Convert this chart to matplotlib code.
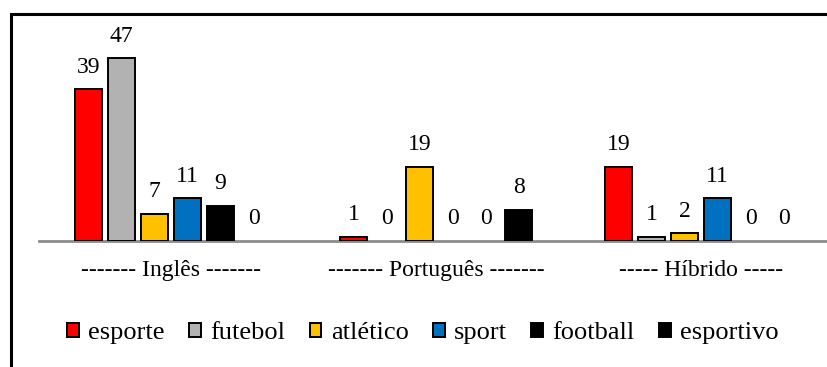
import numpy as np
import matplotlib
matplotlib.use('Agg')
import matplotlib.pyplot as plt
from matplotlib.patches import Rectangle

# Frequência de cada termo por grupo
grupos = ['------- Inglês -------', '------- Português -------', '----- Híbrido -----']
termos = ['esporte', 'futebol', 'atlético', 'sport', 'football', 'esportivo']
esporte = [39, 1, 19]
futebol = [47, 0, 1]
atletico = [7, 19, 2]
sport = [11, 0, 11]
football = [9, 0, 0]
esportivo = [0, 8, 0]
series = [esporte, futebol, atletico, sport, football, esportivo]
cores = ['#FF0000', '#B2B2B2', '#FFC000', '#0070C0', '#000000', '#000000']

plt.rcParams['font.family'] = ['Liberation Serif', 'DejaVu Serif']

W, H = 827, 367
fig = plt.figure(figsize=(W / 100, H / 100), dpi=100)

# moldura (cortada à direita e em baixo)
fig.patches.append(Rectangle((10.5 / W, -0.1), 1.2, 1 - 14.5 / H + 0.1,
                             transform=fig.transFigure, fill=False,
                             edgecolor='black', linewidth=2.2))

ax = fig.add_axes([39 / W, 1 - 241 / H, 1 - 39 / W, 200 / H])

esp = 265.0  # px entre grupos
x = np.arange(len(grupos))
passo = 33 / esp
largura = 27 / esp
for i, (vals, cor, nome) in enumerate(zip(series, cores, termos)):
    pos = x + (i - 2.5) * passo
    lw = [1.4 if v > 0 else 0 for v in vals]
    ax.bar(pos, vals, width=largura, color=cor, edgecolor='black',
           linewidth=lw, label=nome, zorder=3)
    for xp, v in zip(pos, vals):
        ax.annotate(str(v), (xp, v), xytext=(0, 12), textcoords='offset points',
                    ha='center', va='baseline', fontsize=17)

ax.set_xlim((39 - 171) / esp, (827 - 171) / esp)
ax.set_ylim(0, 200 / 3.89)
ax.set_xticks(x)
ax.set_xticklabels(grupos, fontsize=17)
ax.tick_params(axis='x', length=0, pad=14)
ax.set_yticks([])
for s in ['top', 'right', 'left']:
    ax.spines[s].set_visible(False)
ax.spines['bottom'].set_color('#8C8C8C')
ax.spines['bottom'].set_linewidth(2)
ax.patch.set_alpha(0)

leg = fig.legend(loc='center', bbox_to_anchor=(423 / W, 1 - 333 / H), ncol=6,
                 frameon=False, fontsize=19, handlelength=0.45, handleheight=0.45,
                 handletextpad=0.35, columnspacing=0.92)
for h in leg.legend_handles:
    h.set_linewidth(1.4)

fig.savefig('out.png', dpi=100)
